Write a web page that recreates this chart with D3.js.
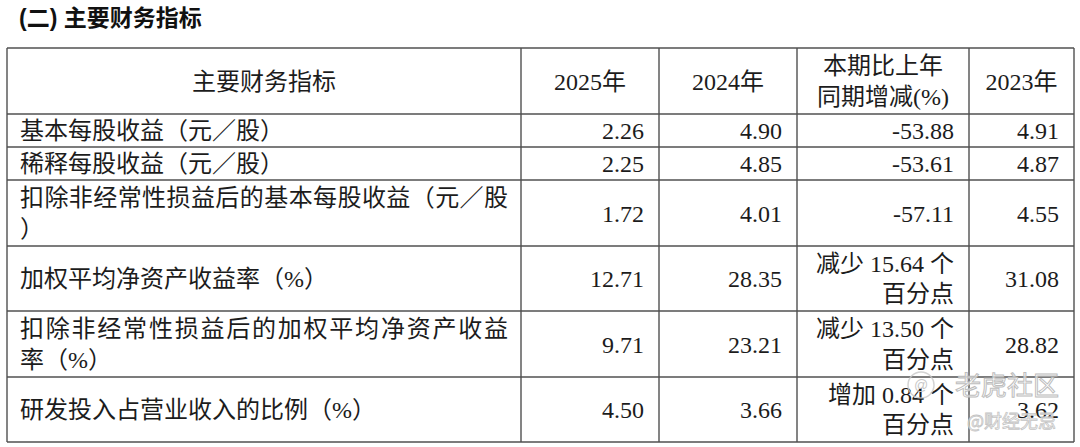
<!DOCTYPE html>
<html>
<head>
<meta charset="utf-8">
<script src="https://cdn.jsdelivr.net/npm/d3@7/dist/d3.min.js"></script>
<style>
  html, body { margin: 0; padding: 0; background: #fff; }
  svg { display: block; }
  .cell { font-family: "Liberation Serif", "Noto Sans CJK SC", serif; font-size: 24px; fill: #1c1c1c; }
</style>
</head>
<body>
<svg id="chart" width="1080" height="447"></svg>
<script>
// ---- data ----
const title = "(二) 主要财务指标";
const headers = ["主要财务指标", "2025年", "2024年", "本期比上年\n同期增减(%)", "2023年"];
const indicators = [
  "基本每股收益（元／股）",
  "稀释每股收益（元／股）",
  "扣除非经常性损益后的基本每股收益（元／股\n）",
  "加权平均净资产收益率（%）",
  "扣除非经常性损益后的加权平均净资产收益\n率（%）",
  "研发投入占营业收入的比例（%）"
];
const values2025 = ["2.26", "2.25", "1.72", "12.71", "9.71", "4.50"];
const values2024 = ["4.90", "4.85", "4.01", "28.35", "23.21", "3.66"];
const changes = ["-53.88", "-53.61", "-57.11", "减少 15.64 个\n百分点", "减少 13.50 个\n百分点", "增加 0.84 个\n百分点"];
const values2023 = ["4.91", "4.87", "4.55", "31.08", "28.82", "3.62"];
const watermark = ["老虎社区", "@财经无忌"];

// ---- layout ----
const colWidths = [514, 138, 138, 172, 105];
const rowHeights = [66, 33, 33, 66, 65, 66, 65];
const x0 = 7, y0 = 48;
const colEdges = [x0, ...d3.cumsum(colWidths).map(v => v + x0)];
const rowEdges = [y0, ...d3.cumsum(rowHeights).map(v => v + y0)];
const xCol = d3.scaleOrdinal().domain(d3.range(colEdges.length)).range(colEdges);
const yRow = d3.scaleOrdinal().domain(d3.range(rowEdges.length)).range(rowEdges);

const svg = d3.select("#chart");

// title
svg.append("text")
  .attr("x", 19).attr("y", 18).attr("dy", "0.36em")
  .style("font-family", '"Liberation Sans", "Noto Sans CJK SC", sans-serif')
  .style("font-size", "23px").style("font-weight", "700").style("fill", "#111")
  .text(title);

// grid lines
const grid = svg.append("g").attr("stroke", "#505050").attr("stroke-width", 1.4);
grid.selectAll("line.h").data(rowEdges).join("line").attr("class", "h")
  .attr("x1", colEdges[0]).attr("x2", colEdges[colEdges.length - 1])
  .attr("y1", d => d).attr("y2", d => d);
grid.selectAll("line.v").data(colEdges).join("line").attr("class", "v")
  .attr("y1", rowEdges[0]).attr("y2", rowEdges[rowEdges.length - 1])
  .attr("x1", d => d).attr("x2", d => d);

// cells
const columns = [indicators, values2025, values2024, changes, values2023];
const cells = [];
headers.forEach((h, c) => cells.push({ r: 0, c, text: h, header: true }));
indicators.forEach((_, i) => columns.forEach((col, c) => cells.push({ r: i + 1, c, text: col[i], header: false })));

const padL = 13, padR = 15;
const g = svg.append("g");
cells.forEach(cell => {
  const lines = cell.text.split("\n");
  const left = xCol(cell.c), right = xCol(cell.c + 1);
  const top = yRow(cell.r), bottom = yRow(cell.r + 1);
  const cy = (top + bottom) / 2;
  const lh = cell.c === 0 ? 31 : 30.5;
  let anchor, x;
  if (cell.header) { anchor = "middle"; x = (left + right) / 2; }
  else if (cell.c === 0) { anchor = "start"; x = left + padL; }
  else { anchor = "end"; x = right - padR; }
  lines.forEach((ln, k) => {
    const t = g.append("text").attr("class", "cell")
      .attr("x", x)
      .attr("y", cy + (k - (lines.length - 1) / 2) * lh)
      .attr("dy", "0.36em")
      .attr("text-anchor", anchor)
      .text(ln);
    if (!cell.header && cell.c === 0 && lines.length > 1 && k < lines.length - 1) {
      t.attr("textLength", right - left - padL - 13).attr("lengthAdjust", "spacing");
    }
  });
});

// watermark
const wm = svg.append("g").style("pointer-events", "none");
wm.append("circle").attr("cx", 921).attr("cy", 385).attr("r", 13)
  .attr("fill", "none").attr("stroke", "#c8c8c8").attr("stroke-width", 1.5).attr("opacity", 0.8);
wm.append("text").attr("x", 921).attr("y", 385).attr("dy", "0.36em").attr("text-anchor", "middle")
  .style("font-family", '"Liberation Sans", sans-serif').style("font-size", "14px")
  .style("fill", "#c8c8c8").text("@");
wm.append("text").attr("x", 955).attr("y", 385).attr("dy", "0.37em")
  .style("font-family", '"Noto Sans CJK SC", sans-serif').style("font-size", "26px")
  .style("fill", "rgba(255,255,255,0.7)").style("stroke", "#bdbdbd").style("stroke-width", 1)
  .text(watermark[0]);
wm.append("text").attr("x", 967).attr("y", 422).attr("dy", "0.36em")
  .style("font-family", '"Noto Sans CJK SC", sans-serif').style("font-size", "18px")
  .style("fill", "rgba(255,255,255,0.6)").style("stroke", "#c4c4c4").style("stroke-width", 0.8)
  .text(watermark[1]);
</script>
</body>
</html>
